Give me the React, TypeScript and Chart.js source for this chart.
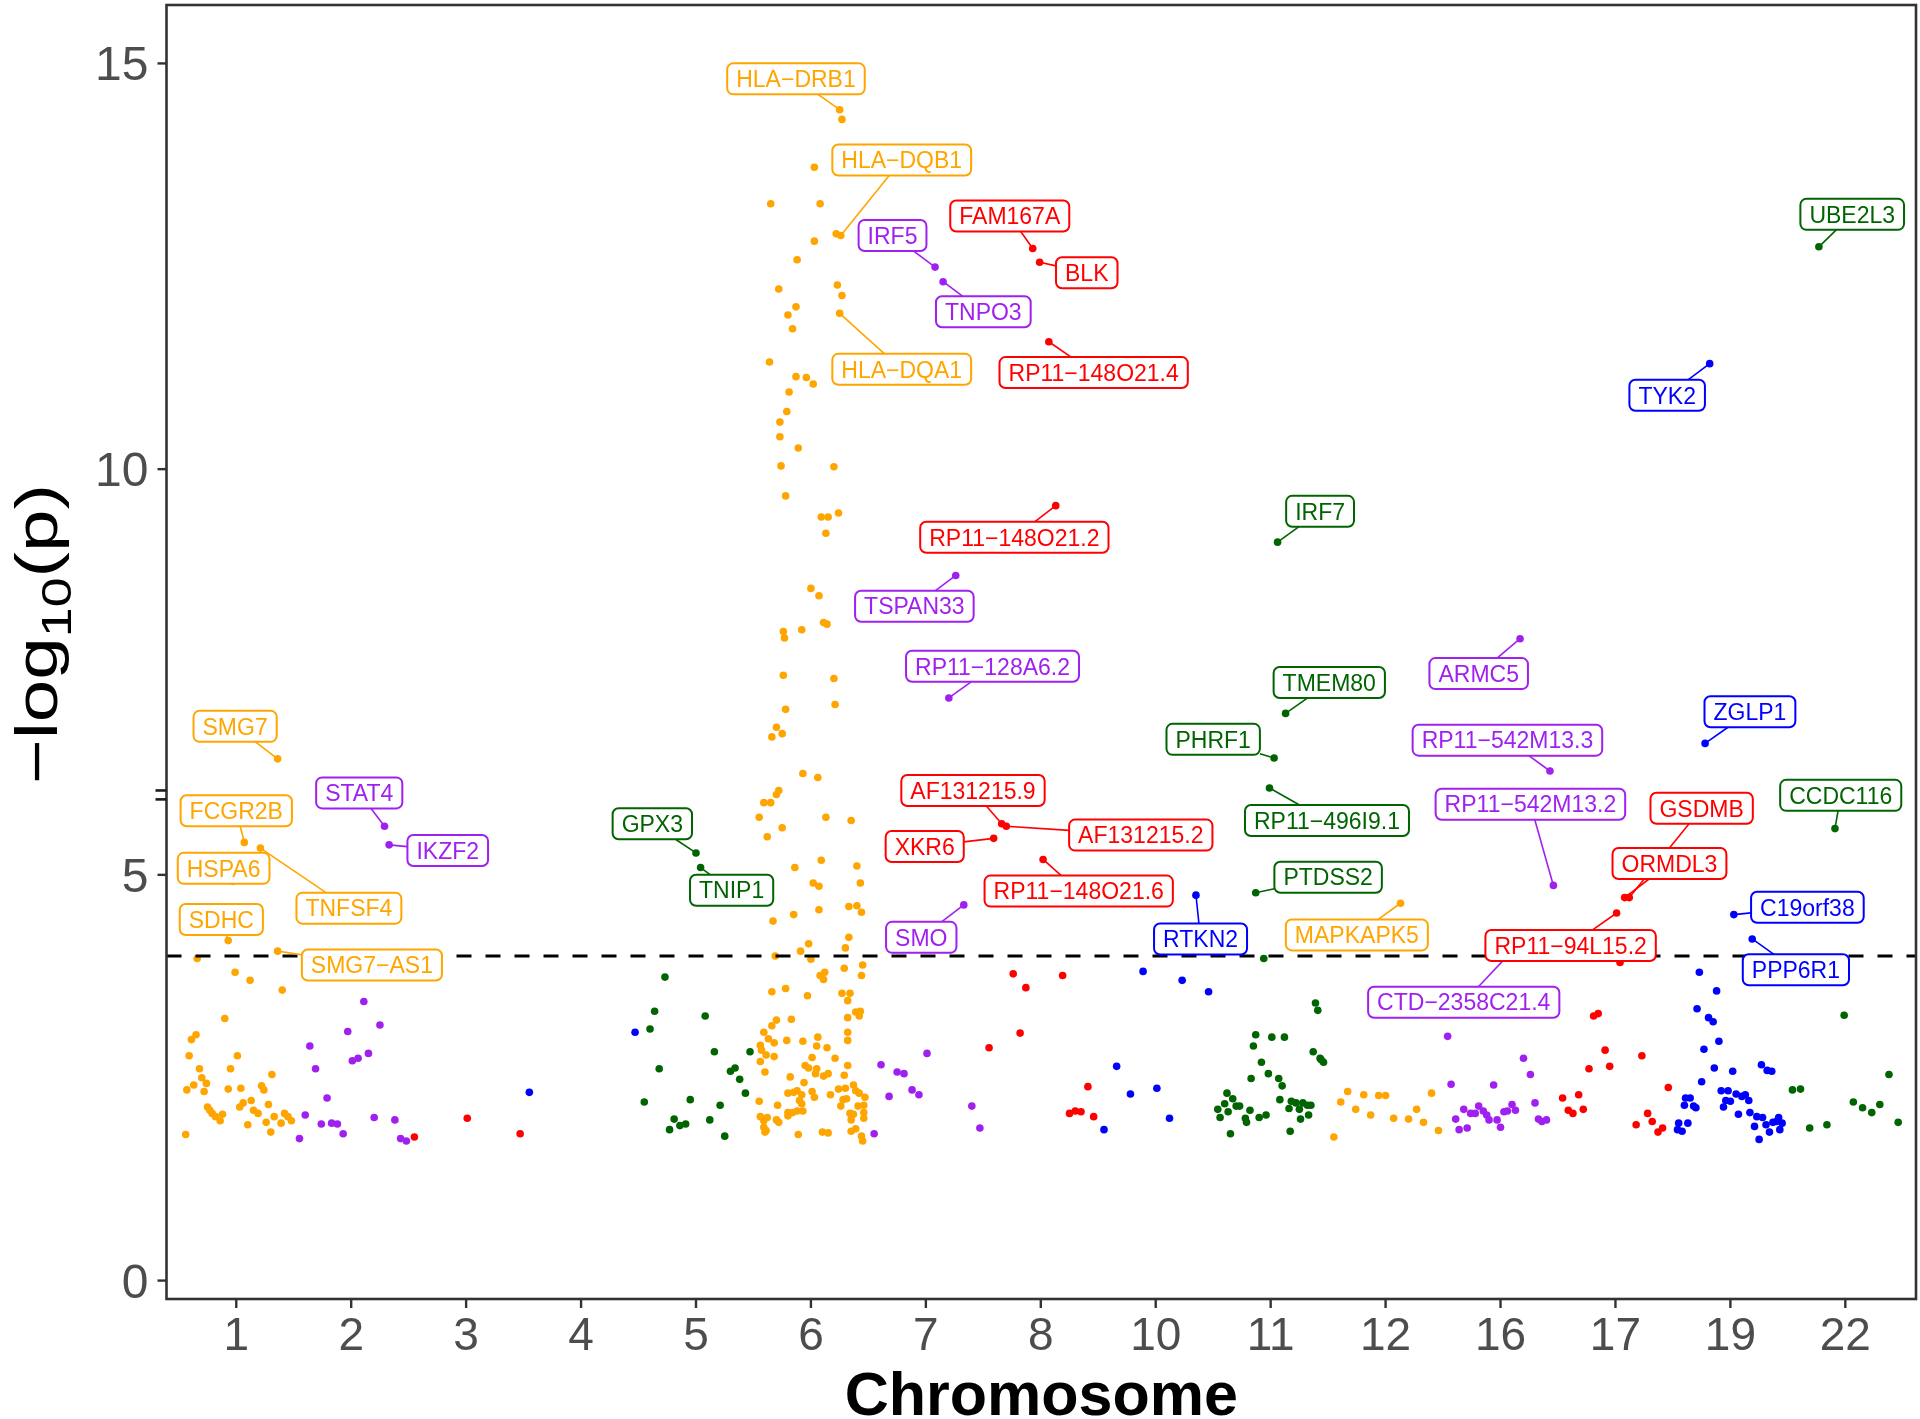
import React, { useEffect, useRef } from "react";
import { Chart, registerables } from "chart.js";
Chart.register(...registerables);

// ---------------- data ----------------
const chromosomes = ["1", "2", "3", "4", "5", "6", "7", "8", "10", "11", "12", "16", "17", "19", "22"];
const palette = ["#FFA500", "#A020F0", "#FF0000", "#0000FF", "#006400"];
const yTicks = [0, 5, 10, 15];
const threshold = 4;
const axisBreak = [5.93, 6.04];

const chr1 = [[0.66,3.97],[0.99,3.80],[1.12,3.70],[1.40,3.58],[0.90,3.23],[0.65,3.03],[0.61,2.97],[0.59,2.77],[1.01,2.77],[0.68,2.61],[0.95,2.61],[0.70,2.50],[0.74,2.43],[0.57,2.35],[0.63,2.41],[0.72,2.33],[0.93,2.36],[1.04,2.37],[1.22,2.40],[1.24,2.35],[1.31,2.54],[0.75,2.14],[0.77,2.10],[0.79,2.06],[0.82,2.02],[0.86,1.97],[0.88,2.05],[1.03,2.14],[1.06,2.19],[1.13,2.22],[1.15,2.10],[1.19,2.06],[1.28,2.17],[1.26,1.95],[1.33,2.02],[1.39,1.94],[1.10,1.92],[1.30,1.83],[1.42,2.06],[1.45,2.02],[1.48,1.97],[0.56,1.80]];
const chr2 = [[2.11,3.44],[1.97,3.07],[2.25,3.15],[1.64,2.89],[2.01,2.71],[2.06,2.74],[2.15,2.80],[1.69,2.61],[1.79,2.25],[1.60,2.04],[1.74,1.93],[1.83,1.94],[1.88,1.93],[1.93,1.81],[1.55,1.75],[2.20,2.01],[2.38,1.98],[2.43,1.75],[2.48,1.72]];
const chr3 = [[2.55,1.77],[3.01,2.00],[3.47,1.81]];
const chr4 = [[3.55,2.32],[4.47,3.06]];
const chr5 = [[4.73,3.74],[4.64,3.32],[4.60,3.10],[5.08,3.26],[5.16,2.82],[5.47,2.82],[4.68,2.61],[5.30,2.58],[5.34,2.62],[5.38,2.48],[5.43,2.31],[4.55,2.20],[4.95,2.23],[5.21,2.16],[4.81,1.99],[4.86,1.91],[4.91,1.93],[4.77,1.86],[5.12,1.98],[5.25,1.78]];
const chr6 = [[6.27,14.31],[6.03,13.72],[5.65,13.27],[6.08,13.27],[6.22,12.90],[6.03,12.81],[5.88,12.58],[5.72,12.22],[6.23,12.27],[6.27,12.14],[5.87,12.00],[5.80,11.90],[5.84,11.73],[5.64,11.32],[5.87,11.14],[5.96,11.13],[6.02,11.05],[5.81,10.95],[5.79,10.71],[5.73,10.58],[5.73,10.40],[5.89,10.26],[5.74,10.04],[6.20,10.03],[5.78,9.67],[6.09,9.41],[6.15,9.41],[6.24,9.46],[6.13,9.21],[6.00,8.53],[6.07,8.44],[5.76,8.00],[5.77,7.92],[5.92,8.02],[6.11,8.11],[6.14,8.09],[5.76,7.46],[6.20,7.42],[5.78,7.04],[6.21,7.10],[5.70,6.82],[5.66,6.70],[5.75,6.74],[5.93,6.25],[6.06,6.20],[5.72,6.04],[5.70,5.99],[5.59,5.89],[5.65,5.89],[5.55,5.71],[5.75,5.58],[5.62,5.47],[6.13,5.71],[6.35,5.67],[6.09,5.18],[5.86,5.09],[6.40,5.11],[6.02,4.90],[6.07,4.86],[6.43,4.90],[6.07,4.57],[5.85,4.51],[6.33,4.61],[6.40,4.62],[6.44,4.54],[5.67,4.43],[6.33,4.23],
  [5.98,4.15],[5.91,4.06],[5.69,4.00],[6.00,3.96],[6.30,4.10],[6.29,3.85],[6.45,3.89],[6.44,3.76],[6.08,3.76],[6.12,3.80],[6.11,3.71],[5.66,3.56],[5.78,3.60],[5.97,3.51],[6.27,3.54],[6.34,3.54],[6.32,3.45],[6.39,3.31],[6.43,3.32],[6.42,3.26],[6.32,3.24],[5.70,3.21],[5.66,3.14],[5.59,3.06],[5.83,3.22],[5.79,2.96],[5.93,2.95],[5.63,2.98],[5.68,2.93],[5.56,2.90],[5.57,2.84],[5.61,2.78],[5.68,2.76],[6.06,3.00],[6.05,2.89],[6.14,2.87],[6.32,3.06],[6.32,2.96],[6.21,2.74],[6.01,2.75],[5.56,2.70],[5.60,2.57],[5.95,2.65],[5.98,2.62],[6.05,2.61],[6.04,2.55],[5.82,2.51],[5.94,2.44],[6.11,2.52],[6.15,2.55],[6.29,2.53],[6.32,2.65],[5.80,2.31],[5.85,2.32],[5.88,2.34],[5.92,2.29],[6.01,2.33],[6.03,2.26],[6.17,2.29],[6.24,2.36],[6.30,2.37],[6.37,2.41],[6.39,2.34],[6.42,2.31],[6.28,2.23],[6.31,2.24],[6.47,2.26],[6.46,2.16],[6.41,2.15],[5.90,2.22],[5.92,2.18],[5.93,2.09],[5.55,2.21],[5.71,2.16],[6.26,2.15],[5.80,2.07],[5.84,2.07],[5.88,2.09],[5.80,2.03],[6.34,2.06],[6.37,2.05],[6.46,2.07],[5.56,2.02],[5.59,1.97],[5.62,2.01],[5.70,1.98],[5.72,1.95],[6.35,1.98],[6.46,2.00],[5.59,1.89],[5.61,1.85],[5.60,1.83],[5.89,1.80],[6.10,1.83],[6.15,1.82],[6.35,1.84],[6.39,1.87],[6.44,1.78],[6.45,1.72]];
const chr7 = [[6.61,2.66],[6.75,2.57],[6.68,2.27],[6.55,1.81],[6.81,2.55],[7.01,2.80],[6.88,2.35],[6.94,2.29],[7.40,2.15],[7.47,1.88]];
const chr8 = [[7.76,3.78],[7.87,3.61],[8.19,3.76],[7.82,3.05],[7.55,2.87],[8.41,2.39],[8.25,2.06],[8.30,2.09],[8.35,2.08],[8.46,2.02]];
const chr10 = [[8.89,3.81],[9.23,3.70],[9.46,3.56],[8.66,2.64],[8.78,2.30],[9.01,2.37],[9.12,2.00],[8.55,1.86]];
const chr11 = [[9.62,2.31],[9.67,2.24],[9.60,2.18],[9.70,2.15],[9.54,2.11],[9.63,2.08],[9.56,2.01],[9.65,1.81],[9.94,3.97],[10.39,3.42],[10.41,3.33],[9.87,3.03],[10.01,3.00],[10.12,3.00],[9.85,2.89],[10.37,2.82],[10.43,2.74],[10.46,2.69],[10.44,2.72],[9.92,2.69],[9.98,2.55],[9.83,2.49],[10.07,2.49],[10.10,2.40],[10.08,2.23],[10.18,2.21],[10.22,2.19],[10.28,2.19],[10.32,2.16],[10.35,2.16],[10.16,2.12],[10.25,2.11],[10.33,2.04],[9.73,2.15],[9.82,2.10],[9.78,2.00],[9.79,1.95],[9.96,2.04],[9.90,2.01],[10.26,1.99],[10.17,1.84]];
const chr12 = [[10.67,2.33],[10.61,2.20],[10.81,2.29],[10.94,2.28],[11.00,2.28],[10.74,2.11],[10.87,2.04],[11.07,2.00],[11.20,1.99],[11.27,2.11],[11.33,1.95],[11.40,2.31],[11.46,1.85],[10.55,1.77]];
const chr16 = [[11.54,3.01],[11.57,2.42],[11.94,2.41],[12.20,2.74],[12.26,2.54],[12.30,2.19],[11.68,2.11],[11.74,2.06],[11.78,2.06],[11.81,2.15],[11.85,2.09],[11.88,2.04],[11.90,1.98],[11.97,1.98],[12.00,1.89],[11.61,1.99],[11.64,1.86],[11.71,1.88],[12.03,2.08],[12.06,2.09],[12.10,2.17],[12.13,2.10],[12.33,1.99],[12.36,1.96],[12.40,1.98]];
const chr17 = [[13.04,3.92],[12.77,2.61],[12.54,2.25],[12.68,2.29],[12.72,2.11],[12.59,2.10],[12.63,2.06],[12.81,3.26],[12.85,3.29],[12.91,2.84],[12.95,2.64],[13.23,2.77],[13.46,2.38],[13.28,2.06],[13.32,1.96],[13.37,1.83],[13.41,1.88],[13.18,1.92]];
const chr19 = [[13.73,3.80],[13.88,3.57],[13.71,3.35],[13.81,3.24],[13.85,3.19],[13.90,2.95],[13.77,2.85],[13.86,2.62],[14.02,2.58],[13.75,2.45],[14.27,2.66],[14.32,2.59],[14.36,2.58],[13.92,2.34],[13.98,2.34],[14.05,2.30],[14.10,2.27],[14.13,2.29],[14.16,2.22],[13.96,2.22],[14.00,2.21],[13.94,2.14],[13.61,2.25],[13.65,2.25],[13.60,2.16],[13.68,2.15],[13.70,2.13],[14.07,2.05],[14.17,2.07],[14.23,2.02],[14.28,2.01],[14.21,1.90],[14.31,1.92],[14.37,1.95],[14.42,2.01],[14.45,1.94],[14.40,1.96],[14.43,1.86],[14.34,1.83],[14.25,1.74],[13.55,1.94],[13.63,1.94],[13.54,1.86],[13.58,1.84]];
const chr22 = [[14.99,3.27],[14.54,2.35],[14.61,2.36],[15.38,2.54],[15.07,2.20],[15.15,2.13],[15.23,2.07],[15.30,2.17],[14.69,1.88],[14.84,1.92],[15.46,1.95]];

const chrPoints = [chr1, chr2, chr3, chr4, chr5, chr6, chr7, chr8, chr10, chr11, chr12, chr16, chr17, chr19, chr22];

// labelled hits: [gene, chromosome, position, -log10(p)]
const hits: [string, string, number, number][] = [
  ["SMG7", "1", 1.36, 6.43],
  ["FCGR2B", "1", 1.07, 5.40],
  ["HSPA6", "1", 0.97, 4.92],
  ["TNFSF4", "1", 1.21, 5.33],
  ["SDHC", "1", 0.93, 4.19],
  ["SMG7−AS1", "1", 1.36, 4.06],
  ["STAT4", "2", 2.29, 5.60],
  ["IKZF2", "2", 2.33, 5.37],
  ["GPX3", "5", 5.00, 5.27],
  ["TNIP1", "5", 5.04, 5.09],
  ["HLA−DRB1", "6", 6.25, 14.43],
  ["HLA−DQB1", "6", 6.26, 12.88],
  ["HLA−DQA1", "6", 6.25, 11.92],
  ["IRF5", "7", 7.08, 12.49],
  ["TNPO3", "7", 7.15, 12.31],
  ["TSPAN33", "7", 7.26, 8.69],
  ["RP11−128A6.2", "7", 7.20, 7.18],
  ["SMO", "7", 7.33, 4.63],
  ["FAM167A", "8", 7.93, 12.72],
  ["BLK", "8", 7.99, 12.55],
  ["RP11−148O21.4", "8", 8.07, 11.57],
  ["RP11−148O21.2", "8", 8.13, 9.55],
  ["AF131215.9", "8", 7.66, 5.63],
  ["AF131215.2", "8", 7.70, 5.60],
  ["XKR6", "8", 7.59, 5.45],
  ["RP11−148O21.6", "8", 8.02, 5.19],
  ["RTKN2", "10", 9.35, 4.75],
  ["IRF7", "11", 10.06, 9.10],
  ["TMEM80", "11", 10.13, 6.99],
  ["PHRF1", "11", 10.03, 6.44],
  ["RP11−496I9.1", "11", 9.99, 6.07],
  ["PTDSS2", "11", 9.87, 4.78],
  ["MAPKAPK5", "12", 11.13, 4.65],
  ["ARMC5", "16", 12.17, 7.91],
  ["RP11−542M13.3", "16", 12.43, 6.28],
  ["RP11−542M13.2", "16", 12.46, 4.87],
  ["CTD−2358C21.4", "16", 12.10, 4.06],
  ["RP11−94L15.2", "17", 13.01, 4.53],
  ["GSDMB", "17", 13.12, 4.72],
  ["ORMDL3", "17", 13.08, 4.72],
  ["TYK2", "19", 13.82, 11.30],
  ["ZGLP1", "19", 13.78, 6.62],
  ["C19orf38", "19", 14.03, 4.51],
  ["PPP6R1", "19", 14.19, 4.21],
  ["UBE2L3", "22", 14.77, 12.74],
  ["CCDC116", "22", 14.91, 5.57],
];

// repelled label centres (axis units), same order as hits
const labelPos: [number, number][] = [
  [0.99, 6.83], [1.00, 5.79], [0.89, 5.08], [1.98, 4.59], [0.87, 4.45], [2.18, 3.89],
  [2.07, 6.01], [2.84, 5.30], [4.62, 5.63], [5.31, 4.81],
  [5.87, 14.81], [6.79, 13.81], [6.79, 11.23],
  [6.71, 12.88], [7.50, 11.94], [6.90, 8.31], [7.58, 7.57], [6.96, 4.23],
  [7.73, 13.12], [8.40, 12.42], [8.46, 11.19], [7.77, 9.16], [7.41, 6.04], [8.87, 5.49], [6.99, 5.35], [8.33, 4.80],
  [9.39, 4.21],
  [10.43, 9.48], [10.51, 7.37], [9.50, 6.67], [10.49, 5.67], [10.50, 4.97],
  [10.75, 4.26],
  [11.81, 7.48], [12.06, 6.66], [12.26, 5.87], [11.68, 3.43],
  [12.61, 4.13], [13.75, 5.82], [13.47, 5.14],
  [13.45, 10.91], [14.17, 7.01], [14.67, 4.60], [14.57, 3.83],
  [15.06, 13.14], [14.96, 5.98],
];

// ---------------- drawing helpers ----------------
const FONT = '"Liberation Sans", Arial, Helvetica, sans-serif';
const colorOf = (chr: string) => palette[chromosomes.indexOf(chr) % palette.length];

function roundRect(ctx: CanvasRenderingContext2D, x: number, y: number, w: number, h: number, r: number) {
  ctx.beginPath();
  ctx.moveTo(x + r, y);
  ctx.lineTo(x + w - r, y);
  ctx.arcTo(x + w, y, x + w, y + r, r);
  ctx.lineTo(x + w, y + h - r);
  ctx.arcTo(x + w, y + h, x + w - r, y + h, r);
  ctx.lineTo(x + r, y + h);
  ctx.arcTo(x, y + h, x, y + h - r, r);
  ctx.lineTo(x, y + r);
  ctx.arcTo(x, y, x + r, y, r);
  ctx.closePath();
}

const overlay = {
  id: "overlay",
  beforeDraw(chart: any) {
    const ctx = chart.ctx;
    ctx.save();
    ctx.fillStyle = "#FFFFFF";
    ctx.fillRect(0, 0, chart.width, chart.height);
    ctx.restore();
  },
  afterDatasetsDraw(chart: any) {
    const ctx: CanvasRenderingContext2D = chart.ctx;
    const xs = chart.scales.x;
    const ys = chart.scales.y;
    const a = chart.chartArea;

    // threshold line
    ctx.save();
    ctx.strokeStyle = "#000000";
    ctx.lineWidth = 3;
    ctx.setLineDash([15, 14]);
    const ty = ys.getPixelForValue(threshold);
    ctx.beginPath();
    ctx.moveTo(a.left, ty);
    ctx.lineTo(a.right, ty);
    ctx.stroke();
    ctx.restore();

    // labels
    ctx.save();
    ctx.font = `23px ${FONT}`;
    const boxes = hits.map((h, i) => {
      const w = ctx.measureText(h[0]).width + 18;
      const hgt = 31;
      const cx = xs.getPixelForValue(labelPos[i][0]);
      const cy = ys.getPixelForValue(labelPos[i][1]);
      const px = xs.getPixelForValue(h[2]);
      const py = ys.getPixelForValue(h[3]);
      return { w, hgt, cx, cy, px, py, color: colorOf(h[1]), text: h[0] };
    });
    // segments
    boxes.forEach((b) => {
      const dx = b.px - b.cx;
      const dy = b.py - b.cy;
      const tx = dx === 0 ? Infinity : b.w / 2 / Math.abs(dx);
      const tyy = dy === 0 ? Infinity : b.hgt / 2 / Math.abs(dy);
      const t = Math.min(tx, tyy);
      if (t >= 1) return;
      const sx = b.cx + dx * t;
      const sy = b.cy + dy * t;
      if (Math.hypot(b.px - sx, b.py - sy) < 5) return;
      ctx.strokeStyle = b.color;
      ctx.lineWidth = 1.6;
      ctx.beginPath();
      ctx.moveTo(sx, sy);
      ctx.lineTo(b.px, b.py);
      ctx.stroke();
    });
    // boxes
    boxes.forEach((b) => {
      roundRect(ctx, b.cx - b.w / 2, b.cy - b.hgt / 2, b.w, b.hgt, 6);
      ctx.fillStyle = "#FFFFFF";
      ctx.fill();
      ctx.strokeStyle = b.color;
      ctx.lineWidth = 2;
      ctx.stroke();
      ctx.fillStyle = b.color;
      ctx.textAlign = "center";
      ctx.textBaseline = "alphabetic";
      ctx.fillText(b.text, b.cx, b.cy + 8.2);
    });
    ctx.restore();

    // panel border
    ctx.save();
    ctx.strokeStyle = "#333333";
    ctx.lineWidth = 2.6;
    ctx.strokeRect(a.left, a.top, a.right - a.left, a.bottom - a.top);

    // y ticks
    ctx.lineWidth = 2.4;
    ctx.fillStyle = "#4D4D4D";
    ctx.font = `48px ${FONT}`;
    ctx.textAlign = "right";
    ctx.textBaseline = "alphabetic";
    yTicks.forEach((v) => {
      const y = ys.getPixelForValue(v);
      ctx.beginPath();
      ctx.moveTo(a.left - 9, y);
      ctx.lineTo(a.left, y);
      ctx.stroke();
      ctx.fillText(String(v), a.left - 18, y + 17);
    });
    // axis break marks
    ctx.strokeStyle = "#1A1A1A";
    ctx.lineWidth = 2.6;
    axisBreak.forEach((v) => {
      const y = ys.getPixelForValue(v);
      ctx.beginPath();
      ctx.moveTo(a.left - 11, y);
      ctx.lineTo(a.left, y);
      ctx.stroke();
    });
    ctx.strokeStyle = "#333333";
    ctx.lineWidth = 2.4;

    // x ticks
    ctx.font = `46px ${FONT}`;
    ctx.textAlign = "center";
    chromosomes.forEach((c, i) => {
      const x = xs.getPixelForValue(i + 1);
      ctx.beginPath();
      ctx.moveTo(x, a.bottom);
      ctx.lineTo(x, a.bottom + 9);
      ctx.stroke();
      ctx.fillText(c, x, 1350);
    });

    // x title
    ctx.fillStyle = "#000000";
    ctx.font = `bold 61px ${FONT}`;
    ctx.fillText("Chromosome", (a.left + a.right) / 2, 1415);

    // y title: −log10(p)
    ctx.save();
    ctx.translate(41, 634);
    ctx.rotate(-Math.PI / 2);
    const big = `60px ${FONT}`;
    const small = `42px ${FONT}`;
    ctx.font = big;
    const w1 = ctx.measureText("−log").width;
    const w3 = ctx.measureText("(p)").width;
    ctx.font = small;
    const w2 = ctx.measureText("10").width;
    const total = w1 + w2 + w3;
    const sx = 300 / total;
    ctx.scale(sx, 1);
    ctx.textAlign = "left";
    let x0 = -total / 2;
    const base = 16;
    ctx.font = big;
    ctx.fillText("−log", x0, base);
    x0 += w1;
    ctx.font = small;
    ctx.fillText("10", x0, base + 14);
    x0 += w2;
    ctx.font = big;
    ctx.fillText("(p)", x0, base);
    ctx.restore();

    ctx.restore();
  },
};

export default function App() {
  const ref = useRef<HTMLCanvasElement | null>(null);
  useEffect(() => {
    document.body.style.margin = "0";
    const canvas = ref.current;
    if (!canvas) return;
    const datasets = chromosomes.map((c, i) => ({
      label: c,
      data: chrPoints[i]
        .concat(hits.filter((h) => h[1] === c).map((h) => [h[2], h[3]]))
        .map((p) => ({ x: p[0], y: p[1] })),
      backgroundColor: palette[i % palette.length],
      borderWidth: 0,
      pointRadius: 3.8,
      pointHoverRadius: 3.8,
    }));
    const chart = new Chart(canvas, {
      type: "scatter",
      data: { datasets },
      options: {
        animation: false,
        responsive: false,
        devicePixelRatio: 1,
        events: [],
        layout: { padding: { left: 166.5, right: 4, top: 5, bottom: 120 } },
        plugins: { legend: { display: false }, tooltip: { enabled: false } },
        scales: {
          x: { type: "linear", min: 0.393, max: 15.615, display: false },
          y: { type: "linear", min: -0.227, max: 15.72, display: false },
        },
      },
      plugins: [overlay],
    } as any);
    return () => chart.destroy();
  }, []);
  return (
    <div style={{ width: 1920, height: 1419 }}>
      <canvas ref={ref} width={1920} height={1419} style={{ display: "block", width: 1920, height: 1419 }} />
    </div>
  );
}
